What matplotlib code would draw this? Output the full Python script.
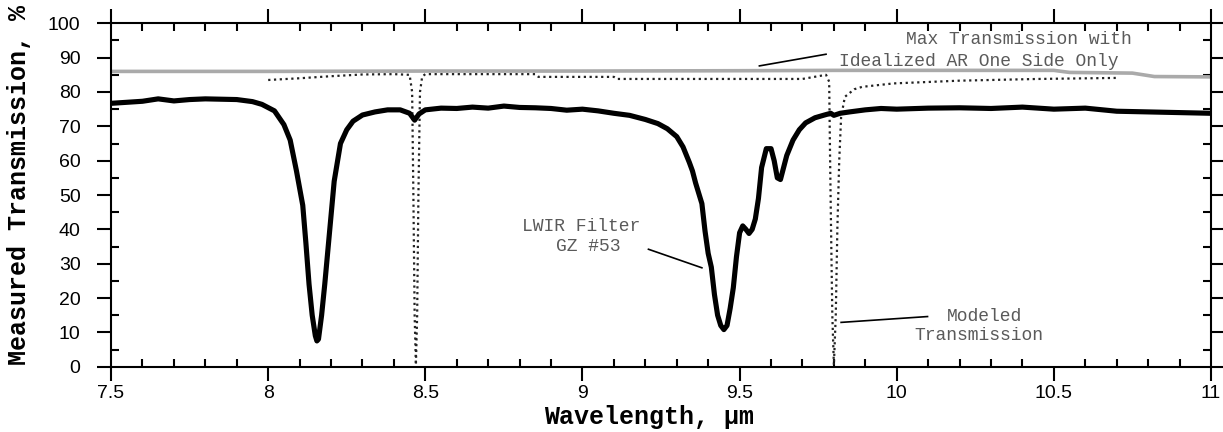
import matplotlib
matplotlib.use("Agg")
import matplotlib.pyplot as plt
from matplotlib.ticker import MultipleLocator

# measured transmission of the LWIR filter (GZ #53)
meas_wl = [7.50, 7.55, 7.60, 7.65, 7.70, 7.75, 7.80, 7.85, 7.90, 7.95, 7.98,
           8.02, 8.05, 8.07, 8.09, 8.10, 8.11, 8.12, 8.13, 8.14, 8.15, 8.155,
           8.16, 8.17, 8.18, 8.19, 8.20, 8.21, 8.23, 8.25, 8.27, 8.30, 8.34,
           8.38, 8.42, 8.45, 8.466, 8.48, 8.50, 8.55, 8.60, 8.65, 8.70, 8.75,
           8.80, 8.85, 8.90, 8.95, 9.00, 9.05, 9.10, 9.15, 9.20, 9.24, 9.27,
           9.30, 9.32, 9.34, 9.35, 9.36, 9.37, 9.38, 9.39, 9.40, 9.41, 9.42,
           9.43, 9.44, 9.45, 9.46, 9.47, 9.48, 9.49, 9.50, 9.51, 9.52, 9.53,
           9.54, 9.55, 9.56, 9.57, 9.585, 9.60, 9.61, 9.62, 9.63, 9.64, 9.65,
           9.67, 9.69, 9.71, 9.74, 9.77, 9.79, 9.80, 9.82, 9.85, 9.90, 9.95,
           10.0, 10.1, 10.2, 10.3, 10.4, 10.5, 10.6, 10.7, 10.8, 10.9, 11.0]
meas_t = [76.7, 77.0, 77.3, 78.0, 77.4, 77.8, 78.0, 77.9, 77.8, 77.2, 76.4,
          74.5, 70.5, 66.0, 57.0, 52.0, 47.0, 36.0, 24.0, 15.0, 9.0, 7.5,
          8.0, 15.0, 24.0, 34.0, 44.0, 54.0, 65.0, 69.0, 71.5, 73.3, 74.2,
          74.8, 74.8, 73.8, 71.8, 73.6, 74.8, 75.3, 75.2, 75.6, 75.3, 75.9,
          75.5, 75.4, 75.2, 74.7, 75.0, 74.5, 73.8, 73.2, 72.0, 70.8, 69.3,
          67.0, 64.0, 59.5, 57.0, 53.5, 50.5, 47.5, 39.5, 33.0, 29.0, 21.0,
          15.0, 12.0, 10.8, 12.0, 17.0, 23.0, 32.0, 39.0, 41.0, 40.0, 38.8,
          40.0, 43.0, 49.0, 58.0, 63.5, 63.5, 60.0, 55.0, 54.5, 58.0, 61.5,
          66.0, 69.0, 71.0, 72.5, 73.3, 73.8, 73.2, 73.8, 74.2, 74.8, 75.2,
          75.0, 75.3, 75.4, 75.2, 75.6, 75.0, 75.3, 74.4, 74.2, 74.0, 73.8]

# max transmission with idealized AR coating on one side
max_wl = [7.5, 8.0, 8.5, 9.0, 9.5, 9.8, 10.0, 10.5, 10.55, 10.75, 10.82, 11.0]
max_t = [86.0, 86.0, 86.1, 86.1, 86.2, 86.3, 86.3, 86.3, 85.7, 85.5, 84.5, 84.4]

# modeled transmission
model_wl = [8.00, 8.10, 8.20, 8.30, 8.40, 8.45, 8.458, 8.462, 8.466, 8.470,
            8.474, 8.478, 8.483, 8.49, 8.50, 8.85, 8.86, 9.10, 9.11, 9.70,
            9.75, 9.775, 9.785, 9.788, 9.791, 9.795, 9.80, 9.806, 9.811,
            9.817, 9.823, 9.835, 9.865, 9.89, 9.99, 10.2, 10.45, 10.7]
model_t = [83.5, 84.0, 84.6, 85.1, 85.2, 85.0, 80.0, 50.0, 15.0, 0.5,
           15.0, 50.0, 80.0, 84.5, 85.2, 85.2, 84.4, 84.4, 83.8, 83.8,
           84.6, 85.0, 83.0, 60.0, 40.0, 15.0, 0.5, 15.0, 40.0,
           60.0, 72.7, 78.6, 80.8, 81.5, 82.5, 83.3, 83.8, 84.1]

mono = "Liberation Mono"
note_color = "#5a5a5a"

fig = plt.figure(figsize=(12.23, 4.32), dpi=100)
ax = fig.add_axes([0.0908, 0.1512, 0.8994, 0.7948])

ax.plot(max_wl, max_t, color="#aaaaaa", lw=2.6, zorder=2)
ax.plot(model_wl, model_t, color="#222222", lw=1.6, ls=(0, (1.0, 1.6)), zorder=3)
ax.plot(meas_wl, meas_t, color="black", lw=3.7, solid_joinstyle="round", zorder=4)

ax.set_xlim(7.5, 11)
ax.set_ylim(0, 100)
ax.xaxis.set_major_locator(MultipleLocator(0.5))
ax.xaxis.set_minor_locator(MultipleLocator(0.1))
ax.yaxis.set_major_locator(MultipleLocator(10))
ax.yaxis.set_minor_locator(MultipleLocator(5))
ax.set_xticks([7.5, 8, 8.5, 9, 9.5, 10, 10.5, 11])
ax.set_xticklabels(["7.5", "8", "8.5", "9", "9.5", "10", "10.5", "11"])

ax.tick_params(which="major", direction="out", length=10, width=1.5,
               top=True, right=True, labelsize=14)
ax.tick_params(axis="y", which="major", pad=12)
ax.tick_params(which="minor", direction="in", length=6, width=1.5,
               top=True, right=True)
for lab in ax.get_xticklabels() + ax.get_yticklabels():
    lab.set_fontfamily("Liberation Sans")
for sp in ax.spines.values():
    sp.set_linewidth(1.5)

ax.set_xlabel("Wavelength, µm", fontfamily=mono, fontweight="bold", fontsize=18)
ax.set_ylabel("Measured Transmission, %", fontfamily=mono, fontweight="bold", fontsize=18)
ax.xaxis.set_label_coords(0.489, -0.112)
ax.yaxis.set_label_coords(-0.073, 0.53)

# annotations
ax.text(10.03, 95.2, "Max Transmission with", fontfamily=mono, fontsize=13,
        color=note_color, ha="left", va="center")
ax.text(9.817, 89.0, "Idealized AR One Side Only", fontfamily=mono, fontsize=13,
        color=note_color, ha="left", va="center")
ax.plot([9.563, 9.775], [87.6, 91.0], color="black", lw=1.2)

ax.text(8.997, 40.8, "LWIR Filter", fontfamily=mono, fontsize=13,
        color=note_color, ha="center", va="center")
ax.text(9.02, 35.1, "GZ #53", fontfamily=mono, fontsize=13,
        color=note_color, ha="center", va="center")
ax.plot([9.21, 9.38], [34.2, 28.8], color="black", lw=1.2)

ax.text(10.28, 14.7, "Modeled", fontfamily=mono, fontsize=13,
        color=note_color, ha="center", va="center")
ax.text(10.26, 9.2, "Transmission", fontfamily=mono, fontsize=13,
        color=note_color, ha="center", va="center")
ax.plot([9.823, 10.098], [12.9, 14.6], color="black", lw=1.2)

fig.savefig("out.png", dpi=100)
